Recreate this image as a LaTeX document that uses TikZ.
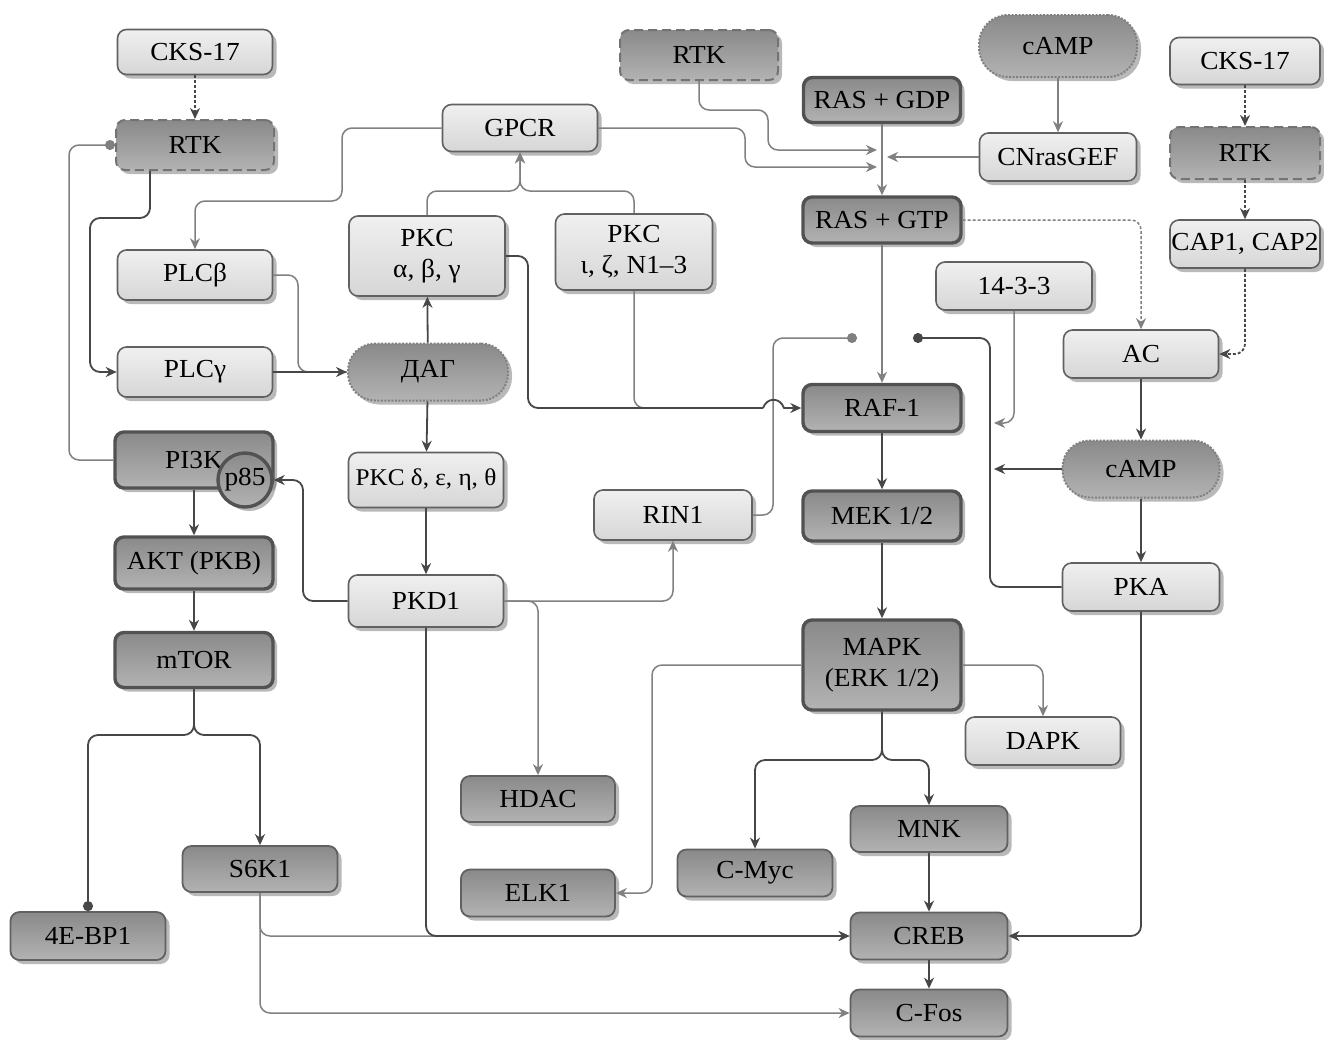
\documentclass[tikz,border=0pt]{standalone}
\usepackage{fontspec}
\setmainfont{Liberation Serif}[FakeStretch=1.05]
\usetikzlibrary{arrows.meta,shadows}
\begin{document}
\begin{tikzpicture}[x=1pt,y=-1pt,
  every node/.style={font=\fontsize{26}{31}\selectfont},
  base/.style={rounded corners=9pt, minimum width=155pt, minimum height=47pt, align=center, inner sep=1pt,
     drop shadow={shadow xshift=4pt, shadow yshift=-4pt, fill=black!55, opacity=0.5}},
  lightbox/.style={base, draw=black!62, line width=1.6pt, top color=black!6, bottom color=black!16},
  darkbox/.style={base, draw=black!62, line width=1.8pt, top color=black!46, bottom color=black!30},
  thickbox/.style={darkbox, draw=black!68, line width=3.4pt},
  rtkbox/.style={darkbox, draw=black!55, line width=2pt, dash pattern=on 9pt off 5pt},
  pillbox/.style={darkbox, draw=black!50, line width=2pt, dash pattern=on 2pt off 1.5pt, minimum height=57pt, rounded corners=27pt},
  dk/.style={draw=black!72, line width=1.8pt, rounded corners=10pt, -{Stealth[length=11pt,width=10pt,inset=3.5pt]}},
  lt/.style={draw=black!50, line width=1.5pt, rounded corners=10pt, -{Stealth[length=11pt,width=10pt,inset=3.5pt]}},
  dotend/.style={-{Circle[length=10pt]}},
  dotline/.style={dash pattern=on 3pt off 2pt}
]
\useasboundingbox (0,0) rectangle (1324,1039);

% ---------- nodes ----------
\node[lightbox, minimum height=45pt] (CKSL) at (195,52) {CKS-17};
\node[rtkbox, minimum width=158pt, minimum height=50pt] (RTKL) at (195,145) {RTK};
\node[lightbox] (GPCR) at (520,128) {GPCR};
\node[rtkbox, minimum width=158pt, minimum height=50pt] (RTKM) at (699,55) {RTK};
\node[pillbox, minimum width=158pt, minimum height=62pt, rounded corners=29pt] (cAMPt) at (1058,46) {cAMP};
\node[lightbox, minimum width=150pt] (CKSR) at (1245,61) {CKS-17};
\node[thickbox, minimum width=157pt, minimum height=45pt] (GDP) at (882,100) {RAS + GDP};
\node[lightbox, minimum width=157pt, minimum height=48pt] (GEF) at (1058,157) {CNrasGEF};
\node[rtkbox, minimum width=150pt, minimum height=52pt] (RTKR) at (1245,153) {RTK};
\node[thickbox, minimum width=158pt, minimum height=46pt] (GTP) at (882,220) {RAS + GTP};
\node[lightbox, minimum width=150pt, minimum height=48pt, inner sep=0pt] (CAP) at (1245,244) {CAP1, CAP2};
\node[lightbox, minimum width=156pt, minimum height=48pt] (F1433) at (1014,286) {14-3-3};
\node[lightbox, minimum height=48pt] (AC) at (1141,354) {AC};
\node[lightbox, minimum width=156pt, minimum height=80pt] (PKCa) at (427,256) {PKC\\α, β, γ};
\node[lightbox, minimum width=157pt, minimum height=76pt] (PKCi) at (634,252) {PKC\\ι, ζ, N1–3};
\node[lightbox, minimum height=50pt] (PLCb) at (195,275) {PLCβ};
\node[lightbox, minimum height=50pt] (PLCg) at (195,372) {PLCγ};
\node[pillbox, minimum width=160pt] (DAG) at (428,372) {ДАГ};
\node[thickbox, minimum width=158pt] (RAF) at (882,408) {RAF-1};
\node[pillbox, minimum width=157pt] (cAMPb) at (1141,469) {cAMP};
\node[thickbox, minimum width=158pt, minimum height=56pt] (PI3K) at (194,460) {PI3K};
\node[darkbox, circle, sharp corners, minimum size=54pt, inner sep=0pt, draw=black!68, line width=3.4pt] (p85) at (245,480) {p85};
\node[lightbox, minimum height=55pt, inner sep=0pt, font=\fontsize{24}{28}\selectfont] (PKCd) at (426,480) {PKC δ, ε, η, θ};
\node[lightbox, minimum width=158pt, minimum height=50pt] (RIN) at (673,515) {RIN1};
\node[thickbox, minimum width=158pt, minimum height=50pt] (MEK) at (882,516) {MEK 1/2};
\node[lightbox, minimum width=157pt, minimum height=48pt] (PKA) at (1141,587) {PKA};
\node[thickbox, minimum width=158pt, minimum height=52pt] (AKT) at (194,563) {AKT (PKB)};
\node[lightbox, minimum height=52pt] (PKD) at (426,601) {PKD1};
\node[thickbox, minimum width=158pt, minimum height=55pt] (mTOR) at (194,660) {mTOR};
\node[thickbox, minimum width=158pt, minimum height=90pt] (MAPK) at (882,665) {MAPK\\(ERK 1/2)};
\node[lightbox, minimum height=48pt] (DAPK) at (1043,741) {DAPK};
\node[darkbox, minimum width=154pt, minimum height=46pt] (HDAC) at (538,799) {HDAC};
\node[darkbox, minimum width=157pt, minimum height=46pt] (MNK) at (929,829) {MNK};
\node[darkbox] (CMyc) at (755,873) {C-Myc};
\node[darkbox, minimum height=46pt] (S6K) at (260,869) {S6K1};
\node[darkbox, minimum width=154pt] (ELK) at (538,893) {ELK1};
\node[darkbox, minimum height=48pt] (EBP) at (88,936) {4E-BP1};
\node[darkbox, minimum width=157pt] (CREB) at (929,936) {CREB};
\node[darkbox, minimum width=157pt] (CFos) at (929,1013) {C-Fos};

% ---------- free ends ----------
\coordinate (jr) at (877,150);
\coordinate (jc) at (887,157);
\coordinate (jg) at (877,167);
\coordinate (j14) at (994,423);
\coordinate (jm) at (994,469);
\coordinate (dL) at (857,338);
\coordinate (dR) at (913,338);
\coordinate (mg) at (690,408);
\coordinate (h1) at (763,408);
\coordinate (h2) at (784,408);

% ---------- light connectors ----------
\draw[lt, dotend] (PI3K.west) -| (69,145) -- (RTKL.west);
\draw[lt] (GPCR.west) -| (342,201) -| (PLCb.north);
\draw[lt, -] (PLCb.east) -| (298,372) -- (DAG.west);
\draw[lt] (PKCa.north) |- (520,191) -- (GPCR.south);
\draw[lt] (PKCi.north) |- (520,191) -- (GPCR.south);
\draw[lt] (GPCR.east) -| (745,167) -- (jg);
\draw[lt] (RTKM.south) |- (768,110) |- (jr);
\draw[lt] (GEF.west) -- (jc);
\draw[lt] (GDP) -- (GTP);
\draw[lt] (cAMPt) -- (GEF);
\draw[lt, dotline] (GTP.east) -| (AC.north);
\draw[lt] (GTP) -- (RAF);
\draw[lt] (F1433.south) |- (j14);
\draw[lt, dotend] (RIN.east) -| (773,338) -- (dL);
\draw[lt] (PKD.east) -| (RIN.south);
\draw[lt] (PKD.east) -| (HDAC.north);
\draw[lt, -] (PKCi.south) |- (mg);
\draw[lt] (MAPK.east) -| (DAPK.north);
\draw[lt] (MAPK.west) -| (652,893) -- (ELK.east);
\draw[lt] (S6K.south) |- (CREB.west);
\draw[lt] (S6K.south) |- (CFos.west);

% ---------- dark connectors ----------
\draw[dk, dotline] (CKSL) -- (RTKL);
\draw[dk] ([xshift=-45pt]RTKL.south) |- (90,218) |- (PLCg.west);
\draw[dk, dotline] (CKSR) -- (RTKR);
\draw[dk, dotline] (RTKR) -- (CAP);
\draw[dk, dotline] (CAP.south) |- (AC.east);
\draw[dk, dotend] (PKA.west) -| (990,338) -- (dR);
\draw[dk] (cAMPb.west) -- (jm);
\draw[dk, line width=2.4pt] (AC) -- (cAMPb);
\draw[dk] (cAMPb) -- (PKA);
\draw[dk] (PKA.south) |- (CREB.east);
\draw[dk] (PKD.south) |- (CREB.west);
\draw[dk] (PKD.west) -| (303,480) -- (p85.east);
\draw[dk] (PKCd) -- (PKD);
\draw[dk] (DAG) -- (PKCd);
\draw[dk] (DAG) -- (PKCa);
\draw[dk, line width=2.2pt] (PLCg) -- (DAG);
\draw[dk, -] (PKCa.east) -| (528,408) -- (h1);
\draw[dk, sharp corners] (h1) .. controls (767,397) and (780,397) .. (h2) -- (RAF.west);
\draw[dk] (RAF) -- (MEK);
\draw[dk] (MEK) -- (MAPK);
\draw[dk] (MAPK.south) -- (882,760) -| (CMyc.north);
\draw[dk] (MAPK.south) -- (882,760) -| (MNK.north);
\draw[dk] (MNK) -- (CREB);
\draw[dk] (CREB) -- (CFos);
\draw[dk] (PI3K) -- (AKT);
\draw[dk] (AKT) -- (mTOR);
\draw[dk] (mTOR.south) -- (194,735) -| (S6K.north);
\draw[dk, dotend] (mTOR.south) -- (194,735) -| (EBP.north);
\end{tikzpicture}
\end{document}
